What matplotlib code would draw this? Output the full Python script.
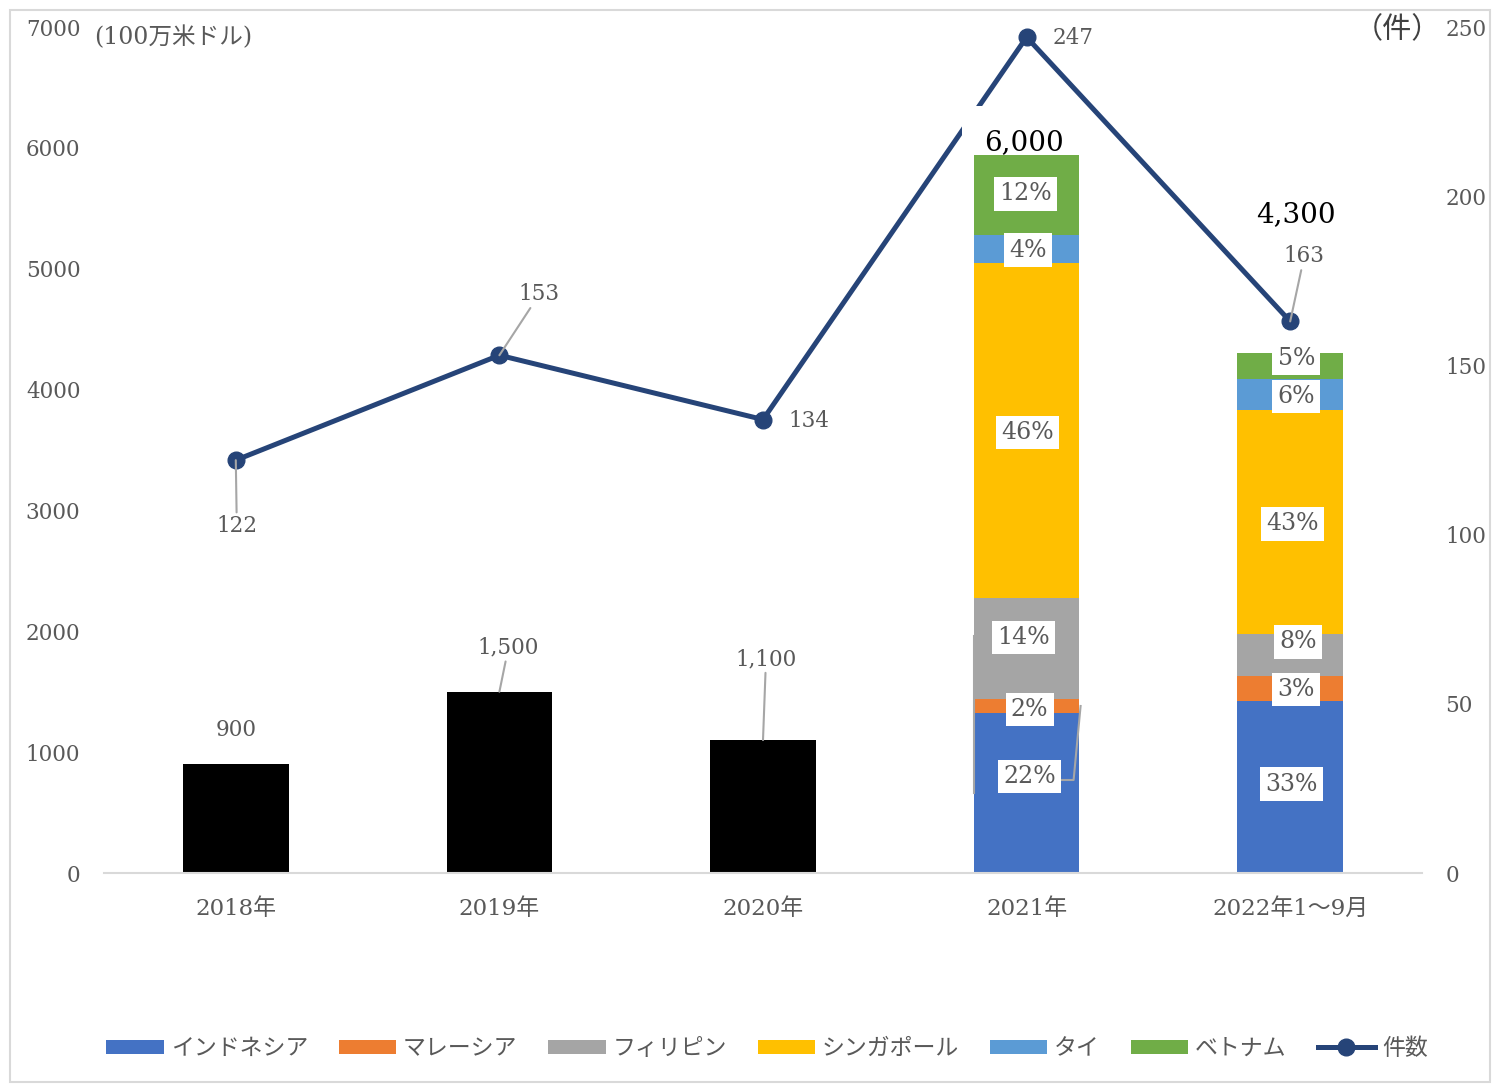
import matplotlib
matplotlib.use('Agg')
import matplotlib.pyplot as plt
from matplotlib.patches import Rectangle, Patch
from matplotlib.lines import Line2D
import numpy as np

plt.rcParams['font.family'] = ['DejaVu Serif', 'Noto Sans CJK JP']

# ---------------- data ----------------
categories = ['2018年', '2019年', '2020年', '2021年', '2022年1～9月']
total_only = [900, 1500, 1100, 0, 0]
countries = ['インドネシア', 'マレーシア', 'フィリピン', 'シンガポール', 'タイ', 'ベトナム']
indonesia = [0, 0, 0, 1320, 1420]
malaysia = [0, 0, 0, 120, 210]
philippines = [0, 0, 0, 835, 350]
singapore = [0, 0, 0, 2770, 1850]
thailand = [0, 0, 0, 235, 255]
vietnam = [0, 0, 0, 660, 215]
pct_2021 = ['22%', '2%', '14%', '46%', '4%', '12%']
pct_2022 = ['33%', '3%', '8%', '43%', '6%', '5%']
bar_total_labels = ['900', '1,500', '1,100', '6,000', '4,300']
counts = [122, 153, 134, 247, 163]
count_label = '件数'

# ---------------- style ----------------
colors = ['#4472C4', '#ED7D31', '#A5A5A5', '#FFC000', '#5B9BD5', '#70AD47']
line_color = '#264478'
gray_txt = '#595959'
leader = '#A6A6A6'

W, H = 1492, 1085
fig = plt.figure(figsize=(W / 100, H / 100), dpi=100)
ax = fig.add_axes([104 / W, 212 / H, 1318 / W, 846 / H])
ax2 = ax.twinx()
ax.set_zorder(ax2.get_zorder() + 1)
ax.patch.set_visible(False)

x = np.arange(len(categories))
bw = 0.40

ax.bar(x, total_only, width=bw, color='black', zorder=1)
series = [indonesia, malaysia, philippines, singapore, thailand, vietnam]
bottom = np.zeros(len(categories))
bottoms = []
for vals, c in zip(series, colors):
    ax.bar(x, vals, width=bw, bottom=bottom, color=c, zorder=1)
    bottoms.append(bottom.copy())
    bottom = bottom + np.array(vals)

ax.set_xlim(-0.5, 4.5)
ax.set_ylim(0, 7000)
ax.set_yticks(np.arange(0, 7001, 1000))
ax.set_xticks(x)
ax.set_xticklabels(categories)
for s in ['top', 'left', 'right']:
    ax.spines[s].set_visible(False)
ax.spines['bottom'].set_color('#D9D9D9')
ax.spines['bottom'].set_linewidth(1.5)
ax.tick_params(axis='y', length=0, labelsize=15.5, labelcolor=gray_txt, pad=17)
ax.tick_params(axis='x', length=0, labelsize=16.5, labelcolor=gray_txt, pad=18)

ax2.set_ylim(0, 250)
ax2.set_yticks(np.arange(0, 251, 50))
for s in ax2.spines.values():
    s.set_visible(False)
ax2.tick_params(axis='y', length=0, labelsize=15.5, labelcolor=gray_txt, pad=17)
ax2.plot(x, counts, color=line_color, lw=3.6, marker='o', ms=12, zorder=3)

# count labels (offset pixels) and leader lines
count_off = [(1, -66, True), (40, 61, True), (46, -1, False), (46, -1, False), (14, 65, True)]
for xi, v, (dx, dy, ln) in zip(x, counts, count_off):
    ax2.annotate(str(v), xy=(xi, v), xytext=(dx, dy), textcoords='offset pixels',
                 ha='center', va='center', fontsize=15.5, color=gray_txt, zorder=4,
                 arrowprops=dict(arrowstyle='-', color=leader, lw=1.5, shrinkA=0, shrinkB=0) if ln else None)

# bar total labels
tot_vals = [max(a, b) for a, b in zip(total_only, bottom)]
tot_off = [(0, 34, False), (9, 44, True), (3, 81, True), (-3, 13, False), (6, 139, False)]
for i, (xi, v, lab, (dx, dy, ln)) in enumerate(zip(x, tot_vals, bar_total_labels, tot_off)):
    big = i >= 3
    kw = dict(ha='center', va='center', zorder=0.5 if big else 4,
              fontsize=20 if big else 15.5, color='black' if big else gray_txt)
    if i == 3:
        kw['bbox'] = dict(boxstyle='square,pad=0.8', fc='white', ec='none')
    ax.annotate(lab, xy=(xi, v), xytext=(dx, dy), textcoords='offset pixels',
                arrowprops=dict(arrowstyle='-', color=leader, lw=1.5, shrinkA=0, shrinkB=0) if ln else None,
                **kw)

# percentage labels
pct_off = {3: [(3, 17), (3, -3), (-3, 11), (1, -2), (1, -1), (-1, 1)],
           4: [(1, 3), (6, -1), (8, 13), (2, -2), (6, -2), (6, 8)]}
for col, labs in [(3, pct_2021), (4, pct_2022)]:
    for k, (vals, lab) in enumerate(zip(series, labs)):
        b = bottoms[k][col]
        c = b + vals[col] / 2
        dx, dy = pct_off[col][k]
        ax.annotate(lab, xy=(col, c), xytext=(dx, dy), textcoords='offset pixels',
                    ha='center', va='center', fontsize=17, color=gray_txt, zorder=4,
                    bbox=dict(boxstyle='square,pad=0.22', fc='white', ec='none'))

# extra leader lines in 2021 bar
pxx = 1 / 263.6
pxy = 7000 / 846
ax.plot([3 - 53 * pxx, 3 - 53 * pxx], [(873 - 636) * pxy, (873 - 793) * pxy],
        color=leader, lw=1.5, zorder=3)
ax.plot([3 + 33 * pxx, 3 + 47 * pxx, 3 + 54 * pxx],
        [(873 - 780) * pxy, (873 - 780) * pxy, (873 - 706) * pxy],
        color=leader, lw=1.5, zorder=3)

# unit labels
fig.text(94 / W, 1 - 37 / H, '(100万米ドル)', ha='left', va='center', fontsize=17, color=gray_txt)
fig.text(1397 / W, 1 - 30 / H, '（件）', ha='center', va='center', fontsize=21, color='#404040')

# legend
handles = [Patch(facecolor=c, edgecolor='none') for c in colors]
handles.append(Line2D([0], [0], color=line_color, lw=3.6, marker='o', ms=12))
labels = countries + [count_label]
leg = fig.legend(handles, labels, loc='center', bbox_to_anchor=(767 / W, 1 - 1049 / H), ncol=7,
                 frameon=False, fontsize=16.5, handlelength=2.5, handleheight=0.57,
                 handletextpad=0.3, columnspacing=1.35)
for t in leg.get_texts():
    t.set_color(gray_txt)

# outer border
fig.patches.append(Rectangle((10 / W, 3 / H), 1480 / W, 1072 / H, transform=fig.transFigure,
                             fill=False, edgecolor='#D9D9D9', lw=1.5))

fig.savefig('out.png', dpi=100)
